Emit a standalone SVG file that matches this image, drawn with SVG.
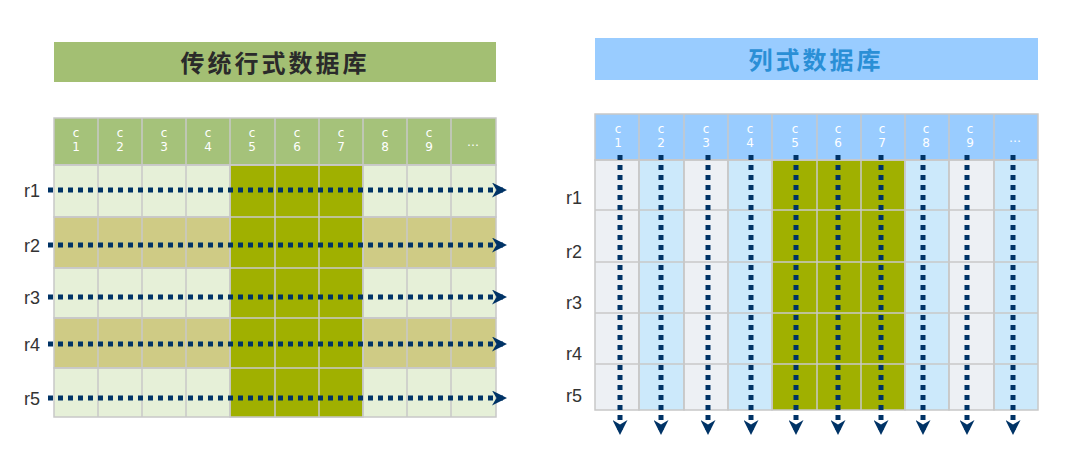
<svg xmlns="http://www.w3.org/2000/svg" width="1075" height="468" viewBox="0 0 1075 468">
<style>
.g line,.g rect{stroke:#c8c8c8;stroke-width:1.5}
.hd{font-family:"DejaVu Sans",sans-serif;font-size:12px;fill:#fff;text-anchor:middle}
.rl{font-family:"Liberation Sans",Arial,sans-serif;font-size:18px;fill:#333}
.t{font-family:"Noto Sans CJK SC",sans-serif;font-size:24px;font-weight:bold;text-anchor:middle;letter-spacing:3px}
.ar{stroke:#003366;stroke-width:5;stroke-dasharray:5 5;fill:none}
</style>
<defs>
<marker id="ah" viewBox="0 0 10 10" refX="8" refY="5" markerWidth="3" markerHeight="3" orient="auto" markerUnits="strokeWidth"><path d="M0,0 L10,5 L0,10 L3,5 z" fill="#003366"/></marker>
</defs>
<rect width="1075" height="468" fill="#fff"/>
<g id="title-left"><rect x="54" y="42" width="442" height="40" fill="#a3bf73"/><text class="t" x="275" y="72" fill="#2a2a2a">传统行式数据库</text></g>
<g id="title-right"><rect x="595" y="38" width="443" height="42" fill="#99ccff"/><text class="t" x="816" y="69" fill="#2a8fd6">列式数据库</text></g>
<g id="left-table" class="g">
<rect x="54" y="118" width="442" height="47" fill="#a5c27a"/>
<rect x="54" y="165" width="442" height="52" fill="#e6f0d8"/>
<rect x="54" y="217" width="442" height="51" fill="#cfcb85"/>
<rect x="54" y="268" width="442" height="50" fill="#e6f0d8"/>
<rect x="54" y="318" width="442" height="50" fill="#cfcb85"/>
<rect x="54" y="368" width="442" height="49" fill="#e6f0d8"/>
<rect x="230" y="165" width="133" height="252" fill="#a0b000"/>
<line x1="98" y1="118" x2="98" y2="417"/><line x1="142" y1="118" x2="142" y2="417"/><line x1="186" y1="118" x2="186" y2="417"/><line x1="230" y1="118" x2="230" y2="417"/><line x1="275" y1="118" x2="275" y2="417"/><line x1="319" y1="118" x2="319" y2="417"/><line x1="363" y1="118" x2="363" y2="417"/><line x1="407" y1="118" x2="407" y2="417"/><line x1="451" y1="118" x2="451" y2="417"/>
<line x1="54" y1="165" x2="496" y2="165"/><line x1="54" y1="217" x2="496" y2="217"/><line x1="54" y1="268" x2="496" y2="268"/><line x1="54" y1="318" x2="496" y2="318"/><line x1="54" y1="368" x2="496" y2="368"/>
</g>
<g id="left-headers">
<text class="hd" x="76" y="137">c</text><text class="hd" x="76" y="151">1</text>
<text class="hd" x="120" y="137">c</text><text class="hd" x="120" y="151">2</text>
<text class="hd" x="164" y="137">c</text><text class="hd" x="164" y="151">3</text>
<text class="hd" x="208" y="137">c</text><text class="hd" x="208" y="151">4</text>
<text class="hd" x="252" y="137">c</text><text class="hd" x="252" y="151">5</text>
<text class="hd" x="297" y="137">c</text><text class="hd" x="297" y="151">6</text>
<text class="hd" x="341" y="137">c</text><text class="hd" x="341" y="151">7</text>
<text class="hd" x="385" y="137">c</text><text class="hd" x="385" y="151">8</text>
<text class="hd" x="429" y="137">c</text><text class="hd" x="429" y="151">9</text>
<text class="hd" x="473" y="146">…</text>
</g>
<g id="left-labels" class="rl">
<text x="24" y="197">r1</text><text x="24" y="252">r2</text><text x="24" y="304">r3</text><text x="24" y="351">r4</text><text x="24" y="405">r5</text>
</g>
<g id="right-table" class="g">
<rect x="595" y="114" width="443" height="46" fill="#99ccff"/>
<rect x="595" y="160" width="44" height="250" fill="#edf0f4"/>
<rect x="639" y="160" width="45" height="250" fill="#cce9fb"/>
<rect x="684" y="160" width="44" height="250" fill="#edf0f4"/>
<rect x="728" y="160" width="44" height="250" fill="#cce9fb"/>
<rect x="772" y="160" width="133" height="250" fill="#a0b000"/>
<rect x="905" y="160" width="44" height="250" fill="#cce9fb"/>
<rect x="949" y="160" width="45" height="250" fill="#edf0f4"/>
<rect x="994" y="160" width="44" height="250" fill="#cce9fb"/>
<line x1="639" y1="114" x2="639" y2="410"/><line x1="684" y1="114" x2="684" y2="410"/><line x1="728" y1="114" x2="728" y2="410"/><line x1="772" y1="114" x2="772" y2="410"/><line x1="817" y1="114" x2="817" y2="410"/><line x1="861" y1="114" x2="861" y2="410"/><line x1="905" y1="114" x2="905" y2="410"/><line x1="949" y1="114" x2="949" y2="410"/><line x1="994" y1="114" x2="994" y2="410"/>
<line x1="595" y1="160" x2="1038" y2="160"/><line x1="595" y1="210" x2="1038" y2="210"/><line x1="595" y1="262" x2="1038" y2="262"/><line x1="595" y1="313" x2="1038" y2="313"/><line x1="595" y1="364" x2="1038" y2="364"/>
</g>
<g id="right-headers">
<text class="hd" x="618" y="133">c</text><text class="hd" x="618" y="147">1</text>
<text class="hd" x="661" y="133">c</text><text class="hd" x="661" y="147">2</text>
<text class="hd" x="706" y="133">c</text><text class="hd" x="706" y="147">3</text>
<text class="hd" x="750" y="133">c</text><text class="hd" x="750" y="147">4</text>
<text class="hd" x="795" y="133">c</text><text class="hd" x="795" y="147">5</text>
<text class="hd" x="838" y="133">c</text><text class="hd" x="838" y="147">6</text>
<text class="hd" x="882" y="133">c</text><text class="hd" x="882" y="147">7</text>
<text class="hd" x="926" y="133">c</text><text class="hd" x="926" y="147">8</text>
<text class="hd" x="970" y="133">c</text><text class="hd" x="970" y="147">9</text>
<text class="hd" x="1015" y="142">…</text>
</g>
<g id="right-labels" class="rl">
<text x="566" y="204">r1</text><text x="566" y="258">r2</text><text x="566" y="309">r3</text><text x="566" y="360">r4</text><text x="566" y="402">r5</text>
</g>
<g id="connectors" class="ar">
<line x1="48" y1="190" x2="504" y2="190" marker-end="url(#ah)"/>
<line x1="48" y1="245" x2="504" y2="245" marker-end="url(#ah)"/>
<line x1="48" y1="297" x2="504" y2="297" marker-end="url(#ah)"/>
<line x1="48" y1="344" x2="504" y2="344" marker-end="url(#ah)"/>
<line x1="48" y1="398" x2="504" y2="398" marker-end="url(#ah)"/>
<line x1="620" y1="155" x2="620" y2="432" marker-end="url(#ah)"/>
<line x1="661" y1="155" x2="661" y2="432" marker-end="url(#ah)"/>
<line x1="708" y1="155" x2="708" y2="432" marker-end="url(#ah)"/>
<line x1="751" y1="155" x2="751" y2="432" marker-end="url(#ah)"/>
<line x1="796" y1="155" x2="796" y2="432" marker-end="url(#ah)"/>
<line x1="838" y1="155" x2="838" y2="432" marker-end="url(#ah)"/>
<line x1="881" y1="155" x2="881" y2="432" marker-end="url(#ah)"/>
<line x1="923" y1="155" x2="923" y2="432" marker-end="url(#ah)"/>
<line x1="967" y1="155" x2="967" y2="432" marker-end="url(#ah)"/>
<line x1="1013" y1="155" x2="1013" y2="432" marker-end="url(#ah)"/>
</g>
</svg>
